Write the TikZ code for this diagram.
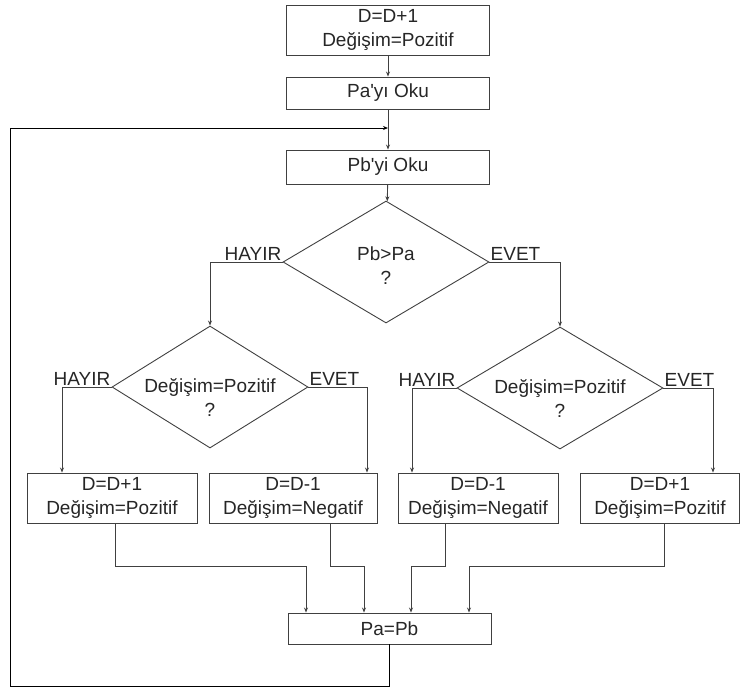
\documentclass[tikz,border=0pt]{standalone}
\usepackage{fontspec}
\setmainfont{Liberation Sans}
\usetikzlibrary{shapes.geometric,arrows.meta,positioning}

\begin{document}
\begin{tikzpicture}[x=1pt,y=-1pt,
    font=\fontsize{19}{24}\selectfont,text=black!85,
    box/.style={draw=black!75,line width=0.9pt,align=center,inner sep=2pt,minimum height=32pt},
    decision/.style={draw=black!75,line width=0.9pt,shape=diamond,inner sep=0pt,minimum height=122pt},
    arr/.style={draw=black!75,line width=0.9pt,-{Stealth[length=5pt,width=4pt]}},
    back/.style={draw=black,line width=1pt,-{Stealth[length=5pt,width=4pt]}},
    lbl/.style={inner sep=1pt}]
  \useasboundingbox (0,0) rectangle (742,689);

  % Start and reading
  \node[box,minimum width=203pt,minimum height=50pt] (init) at (388,30) {D=D+1\\Değişim=Pozitif};
  \node[box,minimum width=203pt] (readA) at (388,93) {Pa\textquotesingle yı Oku};
  \node[box,minimum width=203pt,minimum height=34pt] (readB) at (388,167) {Pb\textquotesingle yi Oku};
  \coordinate (merge) at (388,128);

  % Decisions
  \node[decision,minimum width=206pt] (cmp) at (386,262) {};
  \node[decision,minimum width=196pt] (signL) at (210,387) {};
  \node[decision,minimum width=206pt] (signR) at (560,388) {};
  \node[align=center] (cmpText) at ([yshift=-4pt]cmp.center) {Pb>Pa\\?};
  \node[align=center] (signLText) at ([yshift=-10pt]signL.center) {Değişim=Pozitif\\?};
  \node[align=center] (signRText) at ([yshift=-10pt]signR.center) {Değişim=Pozitif\\?};

  \node[lbl,anchor=south east] (cmpNo) at (cmp.west) {HAYIR};
  \node[lbl,anchor=south west] (cmpYes) at (cmp.east) {EVET};
  \node[lbl,anchor=south east] (signLNo) at (signL.west) {HAYIR};
  \node[lbl,anchor=south west] (signLYes) at (signL.east) {EVET};
  \node[lbl,anchor=south east] (signRNo) at (signR.west) {HAYIR};
  \node[lbl,anchor=south west] (signRYes) at (signR.east) {EVET};

  % Updates of D
  \node[box,minimum width=170pt,minimum height=50pt] (incL) at (112,498) {D=D+1\\Değişim=Pozitif};
  \node[box,minimum width=168pt,minimum height=50pt] (decL) at (293,498) {D=D-1\\Değişim=Negatif};
  \node[box,minimum width=160pt,minimum height=50pt] (decR) at (478,498) {D=D-1\\Değişim=Negatif};
  \node[box,minimum width=159pt,minimum height=50pt] (incR) at (660,498) {D=D+1\\Değişim=Pozitif};

  \node[box,minimum width=203pt,minimum height=31pt] (update) at (389.5,628.5) {Pa=Pb};
  \coordinate (corner) at (10,686);

  % Connectors
  \draw[arr] (init) -- (readA);
  \draw[arr] (readA) -- (readB);
  \draw[arr] (readB) -- (cmp);
  \draw[arr] (cmp.west) -| (signL.north);
  \draw[arr] (cmp.east) -| (signR.north);
  \draw[arr] (signL.west) -| ([xshift=-50pt]incL.north);
  \draw[arr] (signL.east) -| ([xshift=74pt]decL.north);
  \draw[arr] (signR.west) -| ([xshift=-66pt]decR.north);
  \draw[arr] (signR.east) -| ([xshift=53pt]incR.north);
  \foreach \b/\o/\i in {incL/3/-83.5, decL/37/-25.5, decR/-33/21.5, incR/4/79.5}
    \draw[arr] ([xshift=\o pt]\b.south) -- ++(0,43) -| ([xshift=\i pt]update.north);

  % Loop back
  \draw[back] (update.south) |- (corner) |- (merge);
\end{tikzpicture}
\end{document}
